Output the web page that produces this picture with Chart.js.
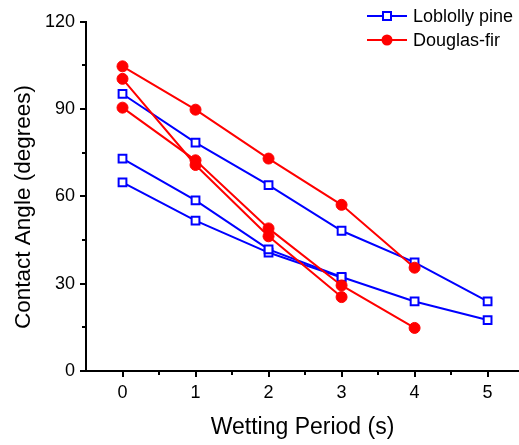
<!DOCTYPE html>
<html>
<head>
<meta charset="utf-8">
<script src="https://cdn.jsdelivr.net/npm/chart.js@4/dist/chart.umd.min.js"></script>
<style>
  html, body { margin: 0; padding: 0; background: #fff; }
  #wrap { width: 519px; height: 445px; }
</style>
</head>
<body>
<div id="wrap"><canvas id="chart" width="519" height="445"></canvas></div>
<script>
// wetting period (s)
const periods = [0, 1, 2, 3, 4, 5];

// contact angle (degrees), three specimens per species
const loblolly1 = [95.2, 78.5, 63.9, 48.2, 37.3, 23.9];
const loblolly2 = [73.0, 58.6, 41.8, 32.3, 23.9, 17.5];
const loblolly3 = [64.8, 51.7, 40.7, 32.1];
const douglas1 = [104.7, 89.8, 73.0, 57.1, 35.5];
const douglas2 = [100.4, 70.8, 46.3, 25.4];
const douglas3 = [90.5, 72.4, 49.0, 29.4, 14.8];

const xTicks = [0, 1, 2, 3, 4, 5];
const yTicks = [0, 30, 60, 90, 120];
const legendLabels = ["Loblolly pine", "Douglas-fir"];
const yTitle = "Contact Angle (degrees)";

const BLUE = "#0000ff";
const RED = "#ff0000";
const FONT = "'Liberation Sans', Arial, sans-serif";

function toPoints(values) {
  return values.map((v, i) => ({ x: periods[i], y: v }));
}

function blueSet(values) {
  return {
    label: legendLabels[0],
    data: toPoints(values),
    borderColor: BLUE,
    borderWidth: 2,
    backgroundColor: "#fff",
    pointStyle: "rect",
    pointRadius: 5.5,
    pointBorderWidth: 2,
    pointBorderColor: BLUE,
    pointBackgroundColor: "#fff",
    order: 2,
  };
}

function redSet(values) {
  return {
    label: legendLabels[1],
    data: toPoints(values),
    borderColor: RED,
    borderWidth: 2,
    backgroundColor: RED,
    pointStyle: "circle",
    pointRadius: 5.5,
    pointBorderWidth: 1,
    pointBorderColor: RED,
    pointBackgroundColor: RED,
    order: 1,
  };
}

// outward major/minor ticks + rotated y title
const tickMarks = {
  id: "tickMarks",
  afterDraw(chart) {
    const { ctx, chartArea } = chart;
    const x = chart.scales.x;
    const y = chart.scales.y;
    ctx.save();
    ctx.strokeStyle = "#000";
    ctx.lineWidth = 2;
    for (let v = 0; v <= 5; v += 0.5) {
      const px = Math.round(x.getPixelForValue(v));
      const len = Number.isInteger(v) ? 6 : 4;
      ctx.beginPath();
      ctx.moveTo(px, chartArea.bottom);
      ctx.lineTo(px, chartArea.bottom + len);
      ctx.stroke();
    }
    for (let v = 0; v <= 120; v += 15) {
      const py = Math.round(y.getPixelForValue(v));
      const len = v % 30 === 0 ? 6 : 4;
      ctx.beginPath();
      ctx.moveTo(chartArea.left, py);
      ctx.lineTo(chartArea.left - len, py);
      ctx.stroke();
    }
    ctx.translate(24, 207);
    ctx.rotate(-Math.PI / 2);
    ctx.fillStyle = "#000";
    ctx.font = "22.5px " + FONT;
    ctx.textAlign = "center";
    ctx.textBaseline = "middle";
    ctx.fillText(yTitle, 0, 0);
    ctx.restore();
  },
};

// legend with line + marker swatches
const lineLegend = {
  id: "lineLegend",
  afterDraw(chart) {
    const { ctx } = chart;
    const rows = [
      { text: legendLabels[0], color: BLUE, style: "rect", y: 16 },
      { text: legendLabels[1], color: RED, style: "circle", y: 40 },
    ];
    ctx.save();
    rows.forEach((r) => {
      ctx.strokeStyle = r.color;
      ctx.lineWidth = 2;
      ctx.beginPath();
      ctx.moveTo(367, r.y);
      ctx.lineTo(407, r.y);
      ctx.stroke();
      if (r.style === "rect") {
        ctx.fillStyle = "#fff";
        ctx.fillRect(383, r.y - 4, 8, 8);
        ctx.strokeRect(383, r.y - 4, 8, 8);
      } else {
        ctx.fillStyle = r.color;
        ctx.beginPath();
        ctx.arc(387, r.y, 5.5, 0, Math.PI * 2);
        ctx.fill();
      }
      ctx.fillStyle = "#000";
      ctx.font = "18px " + FONT;
      ctx.textBaseline = "middle";
      ctx.textAlign = "left";
      ctx.fillText(r.text, 413, r.y + 1);
    });
    ctx.restore();
  },
};

new Chart(document.getElementById("chart").getContext("2d"), {
  type: "line",
  data: {
    datasets: [
      blueSet(loblolly1),
      blueSet(loblolly2),
      blueSet(loblolly3),
      redSet(douglas1),
      redSet(douglas2),
      redSet(douglas3),
    ],
  },
  options: {
    responsive: false,
    animation: false,
    layout: {
      autoPadding: false,
      padding: { top: 17, right: 0, bottom: 0, left: 0 },
    },
    plugins: {
      legend: { display: false },
      tooltip: { enabled: false },
    },
    scales: {
      x: {
        type: "linear",
        min: -0.5,
        max: 5.43,
        grid: { display: false, drawTicks: false },
        border: { display: true, color: "#000", width: 2 },
        afterBuildTicks: (scale) => {
          scale.ticks = xTicks.map((v) => ({ value: v }));
        },
        afterFit: (scale) => {
          scale.height = 74;
          scale.paddingLeft = 0;
          scale.paddingRight = 0;
        },
        ticks: {
          color: "#000",
          padding: 11,
          font: { family: FONT, size: 18 },
          callback: (v) => String(v),
        },
        title: {
          display: true,
          text: "Wetting Period (s)",
          color: "#000",
          font: { family: FONT, size: 23 },
          padding: { top: 4, bottom: 4 },
        },
      },
      y: {
        type: "linear",
        min: 0,
        max: 120,
        grid: { display: false, drawTicks: false },
        border: { display: true, color: "#000", width: 2 },
        afterBuildTicks: (scale) => {
          scale.ticks = yTicks.map((v) => ({ value: v }));
        },
        afterFit: (scale) => {
          scale.width = 86;
        },
        ticks: {
          color: "#000",
          padding: 11,
          font: { family: FONT, size: 18 },
          callback: (v) => String(v),
        },
      },
    },
  },
  plugins: [tickMarks, lineLegend],
});
</script>
</body>
</html>
